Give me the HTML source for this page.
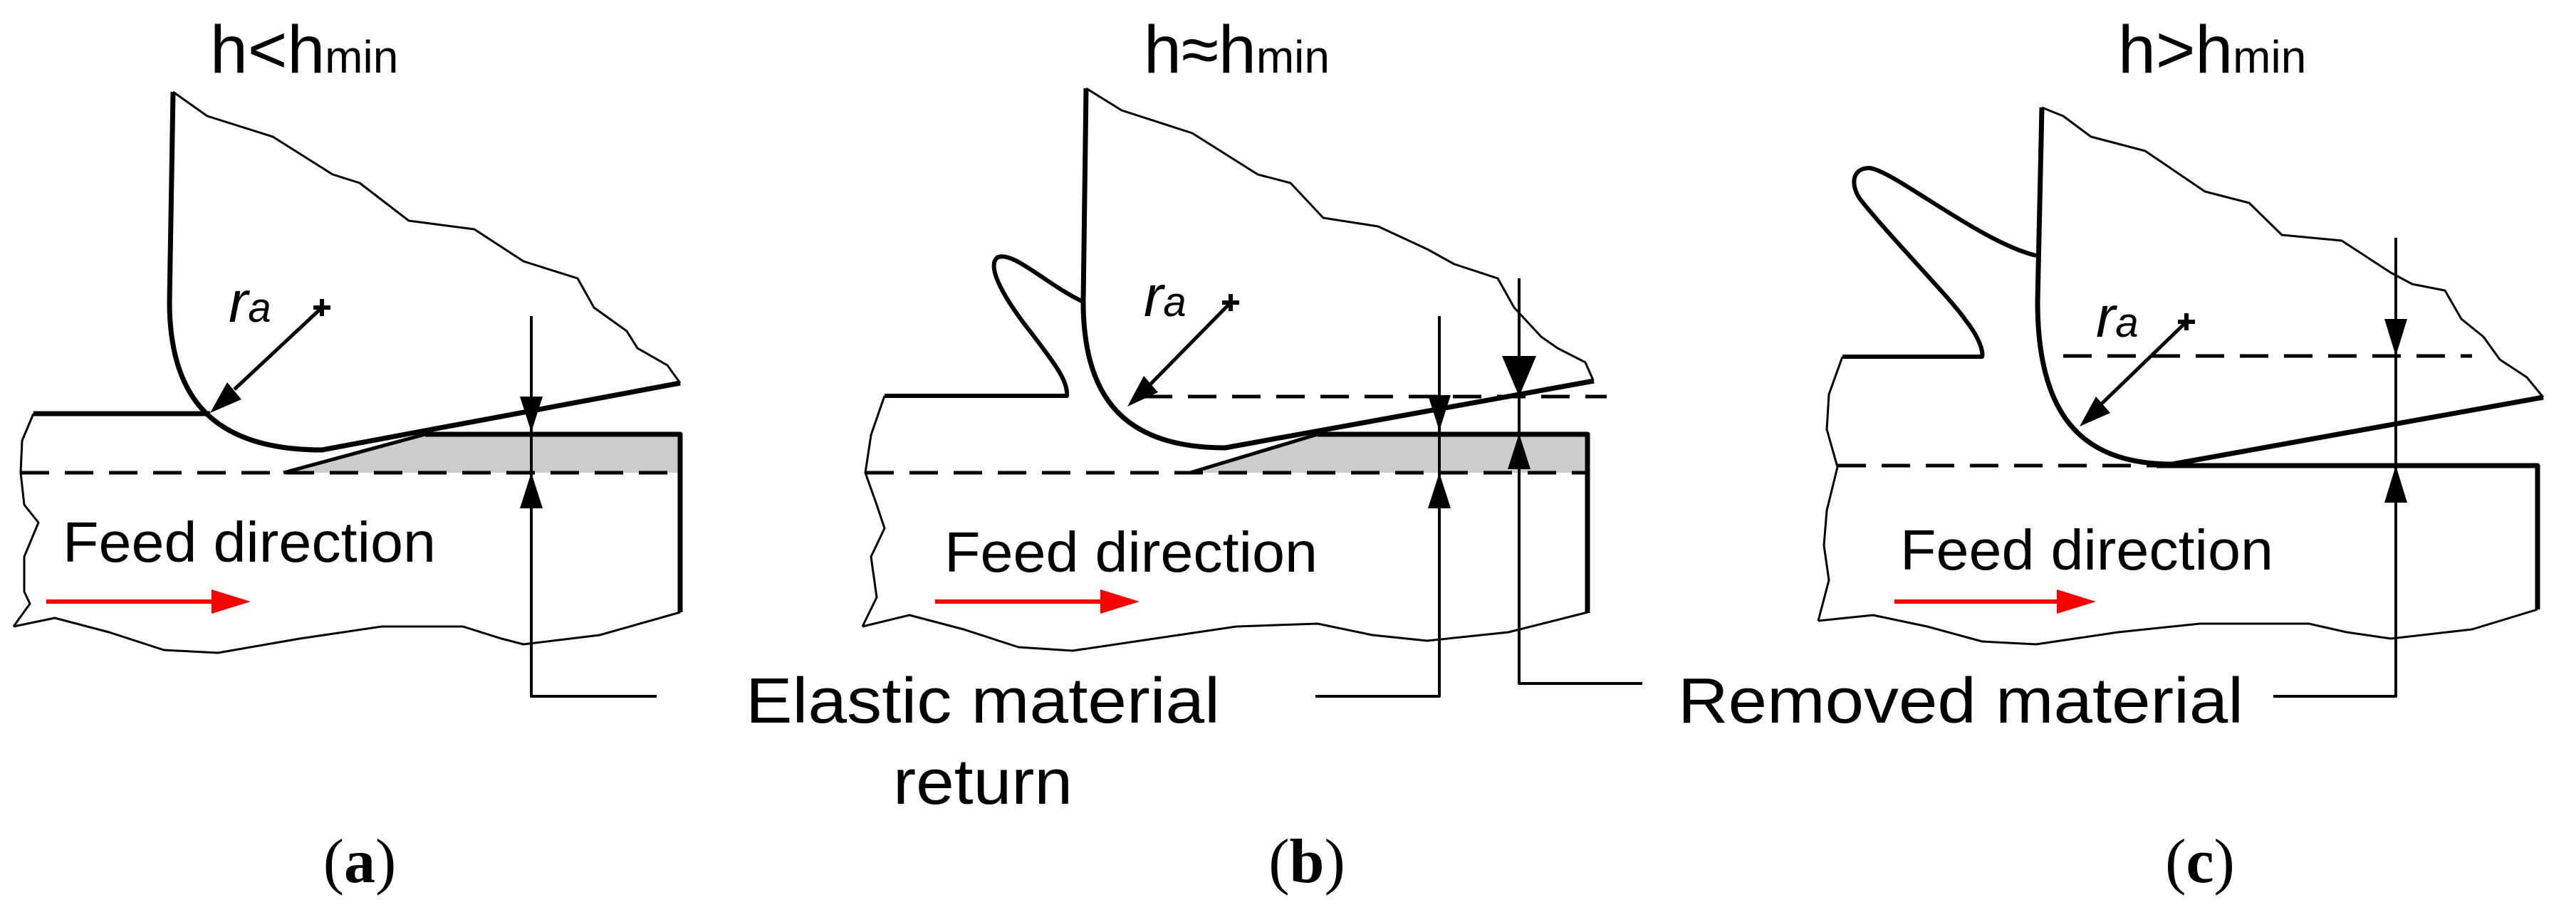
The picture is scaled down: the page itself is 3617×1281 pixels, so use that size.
<!DOCTYPE html>
<html><head><meta charset="utf-8"><style>
html,body{margin:0;padding:0;background:#fff;}
svg{display:block;}
text{font-family:"Liberation Sans",sans-serif;fill:#000;}
.ser{font-family:"Liberation Serif",serif;}
</style></head><body>
<svg width="3617" height="1281" viewBox="0 0 3617 1281" xmlns="http://www.w3.org/2000/svg">
<g fill="none" stroke="#000" stroke-linejoin="round" stroke-linecap="butt">

<!-- ===== Panel A ===== -->
<polygon points="398,664 597,610 955,610 955,664" fill="#ccc" stroke="none"/>
<polyline stroke-width="3" points="243,129 291,163 383,192 467,245 505,257 574,310 666,322 735,367 811,391 834,432 880,465 895,489 937,513 955,538"/>
<path stroke-width="7" d="M243,129 L238,424 C238,560 300,632 452,632 L955,538"/>
<line stroke-width="7" x1="47" y1="581" x2="295" y2="581"/>
<line stroke-width="5" x1="398" y1="664" x2="597" y2="610"/>
<polyline stroke-width="7" points="597,610 955,610 955,860"/>
<line stroke-width="5" stroke-dasharray="40,22" x1="29" y1="664" x2="955" y2="664"/>
<polyline stroke-width="3" points="47,581 31,619 29,664 34,709 54,734 34,782 34,831 42,848 19,880"/>
<polyline stroke-width="3" points="19,880 77,868 153,888 230,913 306,917 421,897 536,880 650,880 704,897 735,905 842,892 955,860"/>
<polyline stroke-width="4" points="746,444 746,978 922,978"/>
<line stroke-width="5" x1="452" y1="432" x2="329" y2="547"/>
<line stroke-width="6" x1="440" y1="432" x2="464" y2="432"/><line stroke-width="6" x1="452" y1="420" x2="452" y2="444"/>

<!-- ===== Panel B ===== -->
<polygon points="1671,664 1850,610 2229,610 2229,664" fill="#ccc" stroke="none"/>
<polyline stroke-width="3" points="1525,124 1575,155 1674,187 1766,245 1812,257 1858,306 1935,318 2004,350 2042,371 2103,391 2126,432 2164,473 2187,489 2226,509 2237,534"/>
<path stroke-width="7" d="M1525,124 L1521,424 C1521,560 1580,629 1720,629 L2238,535"/>
<path stroke-width="6" d="M1521,424 C1470,400 1420,350 1400,362 C1385,375 1410,420 1450,470 C1480,510 1500,535 1498,556 L1242,556"/>
<line stroke-width="5" x1="1671" y1="664" x2="1850" y2="610"/>
<polyline stroke-width="7" points="1850,610 2229,610 2229,861"/>
<line stroke-width="5" stroke-dasharray="40,22" x1="1606" y1="557" x2="2256" y2="557"/>
<line stroke-width="5" stroke-dasharray="40,22" x1="1215" y1="664" x2="2229" y2="664"/>
<polyline stroke-width="3" points="1242,556 1223,611 1215,664 1231,709 1242,742 1223,782 1231,839 1211,880"/>
<polyline stroke-width="3" points="1211,880 1277,864 1353,884 1430,909 1506,914 1621,897 1736,880 1850,876 1927,892 2004,900 2118,888 2229,860"/>
<polyline stroke-width="4" points="2021,444 2021,978 1847,978"/>
<polyline stroke-width="4" points="2133,391 2133,960 2306,960"/>
<line stroke-width="5" x1="1728" y1="425" x2="1612" y2="543"/>
<line stroke-width="6" x1="1716" y1="425" x2="1740" y2="425"/><line stroke-width="6" x1="1728" y1="413" x2="1728" y2="437"/>

<!-- ===== Panel C ===== -->
<polyline stroke-width="3" points="2867,151 2897,163 2936,192 3012,212 3096,269 3158,285 3204,330 3288,338 3357,383 3387,399 3433,408 3456,448 3487,473 3510,505 3548,530 3571,558"/>
<path stroke-width="7" d="M2867,151 L2861,424 C2861,580 2920,652 3050,652 L3571,558"/>
<path stroke-width="6" d="M2859,359 C2780,340 2660,240 2625,236 C2600,236 2598,260 2612,280 C2660,340 2740,420 2760,450 C2780,475 2785,495 2783,501 L2587,501"/>
<line stroke-width="5" stroke-dasharray="40,22" x1="2897" y1="500" x2="3471" y2="500"/>
<line stroke-width="5" stroke-dasharray="40,22" x1="2580" y1="654" x2="3028" y2="654"/>
<polyline stroke-width="7" points="3028,654 3563,654 3563,856"/>
<polyline stroke-width="3" points="2587,501 2568,554 2565,603 2580,656 2565,717 2561,766 2568,815 2553,872"/>
<polyline stroke-width="3" points="2553,872 2630,864 2706,880 2783,901 2859,905 2974,888 3089,876 3242,876 3295,888 3357,897 3471,884 3563,856"/>
<polyline stroke-width="4" points="3364,334 3364,978 3192,978"/>
<line stroke-width="5" x1="3070" y1="452" x2="2950" y2="568"/>
<line stroke-width="6" x1="3058" y1="452" x2="3082" y2="452"/><line stroke-width="6" x1="3070" y1="440" x2="3070" y2="464"/>

<!-- red arrows -->
<line stroke="#f00" stroke-width="6" x1="65" y1="845" x2="300" y2="845"/>
<line stroke="#f00" stroke-width="6" x1="1313" y1="845" x2="1545" y2="845"/>
<line stroke="#f00" stroke-width="6" x1="2660" y1="845" x2="2890" y2="845"/>
</g>

<g fill="#000" stroke="none">
<polygon points="746,607 730,557 762,557"/>
<polygon points="746,664 730,714 762,714"/>
<polygon points="2021,605 2005,555 2037,555"/>
<polygon points="2021,664 2005,714 2037,714"/>
<polygon points="2133,557 2109,500 2157,500"/>
<polygon points="2133,609 2117,659 2149,659"/>
<polygon points="3364,500 3348,448 3380,448"/>
<polygon points="3364,654 3348,706 3380,706"/>
<polygon points="295,580 339,561 319,537"/>
<polygon points="1583,571 1626,551 1606,528"/>
<polygon points="2920,599 2963,580 2943,557"/>
</g>
<g fill="#f00">
<polygon points="352,845 297,828 297,862"/>
<polygon points="1600,845 1545,828 1545,862"/>
<polygon points="2943,845 2888,828 2888,862"/>
</g>

<text x="295" y="102" font-size="95">h&lt;h<tspan font-size="64">min</tspan></text>
<text x="1606" y="102" font-size="95">h≈h<tspan font-size="64">min</tspan></text>
<text x="2974" y="102" font-size="95">h&gt;h<tspan font-size="64">min</tspan></text>

<text x="321" y="452" font-size="82" font-style="italic">r<tspan font-size="58">a</tspan></text>
<text x="1606" y="444" font-size="82" font-style="italic">r<tspan font-size="58">a</tspan></text>
<text x="2943" y="473" font-size="82" font-style="italic">r<tspan font-size="58">a</tspan></text>

<text x="88" y="789" font-size="80" textLength="524" lengthAdjust="spacingAndGlyphs">Feed direction</text>
<text x="1326" y="803" font-size="80" textLength="524" lengthAdjust="spacingAndGlyphs">Feed direction</text>
<text x="2668" y="800" font-size="80" textLength="524" lengthAdjust="spacingAndGlyphs">Feed direction</text>

<text x="1047" y="1015" font-size="90" textLength="666" lengthAdjust="spacingAndGlyphs">Elastic material</text>
<text x="1254" y="1129" font-size="90" textLength="252" lengthAdjust="spacingAndGlyphs">return</text>
<text x="2356" y="1015" font-size="90" textLength="794" lengthAdjust="spacingAndGlyphs">Removed material</text>

<text class="ser" x="505" y="1239" font-size="88" text-anchor="middle">(<tspan font-weight="bold">a</tspan>)</text>
<text class="ser" x="1835" y="1239" font-size="88" text-anchor="middle">(<tspan font-weight="bold">b</tspan>)</text>
<text class="ser" x="3089" y="1239" font-size="88" text-anchor="middle">(<tspan font-weight="bold">c</tspan>)</text>
</svg>
</body></html>
